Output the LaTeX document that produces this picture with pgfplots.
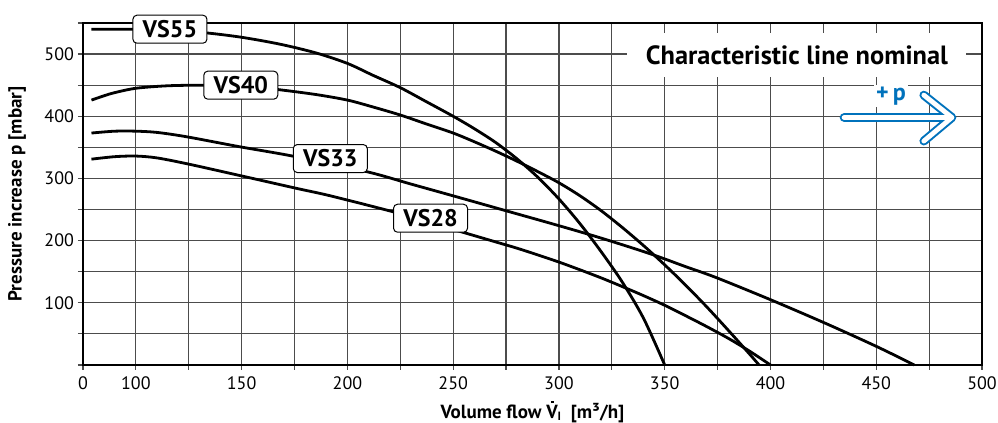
\documentclass[border=0pt]{standalone}
\usepackage{fontspec}
\setmainfont{PT Sans}
\usepackage{pgfplots}
\pgfplotsset{compat=1.18}

\definecolor{arrowblue}{RGB}{0,114,188}

\tikzset{
  lbl/.style={draw=black, fill=white, rounded corners=2pt, line width=0.5pt,
    font=\bfseries\fontsize{12}{12}\selectfont, minimum width=37pt,
    minimum height=14pt, inner sep=1pt},
  crv/.style={black, line width=1.4pt, smooth}
}

% V with a dot above (the font has no combining dot)
\newcommand{\Vdot}{\makebox[0pt][l]{\smash{\hspace{0.25em}\raisebox{0.8em}{\rule{0.14em}{0.14em}}}}V}

\begin{document}
\begin{tikzpicture}
\begin{axis}[
  scale only axis, width=449.5pt, height=171pt,
  xmin=75, xmax=500, ymin=0, ymax=550,
  xtick={75,100,...,500},
  xticklabels={0,100,,150,,200,,250,,300,,350,,400,,450,,500},
  ytick={0,50,...,550},
  yticklabels={,,100,,200,,300,,400,,500,},
  xtick pos=bottom, ytick pos=left, tick align=outside,
  major tick length=2.5pt,
  grid=major, grid style={black!70, line width=0.6pt},
  axis line style={line width=0.9pt},
  tick style={black!70, line width=0.6pt},
  ticklabel style={font=\fontsize{9}{10}\selectfont},
  yticklabel style={xshift=1.5pt},
  /pgf/number format/assume math mode=true,
  xlabel={Volume flow \Vdot{\fontsize{6}{6}\selectfont\raisebox{-0.4ex}{I}}\ \ [m³/h]},
  ylabel={Pressure increase p [mbar]},
  every axis x label/.style={at={(axis description cs:0.5,0)}, yshift=-24pt,
    anchor=center, font=\bfseries\fontsize{9.5}{10}\selectfont},
  every axis y label/.style={at={(axis description cs:0,0.5)}, xshift=-33pt,
    rotate=90, anchor=center, font=\bfseries\fontsize{9.5}{10}\selectfont},
  clip=false,
]
% VS55
\addplot[crv] coordinates {
  (79,540) (90,540) (98,540) (110,539) (120,537) (133.5,534) (150,527) (168,516)
  (185,502) (200,485) (212,466) (225,446) (237,424) (250,400) (260,380) (270,358)
  (280,332) (290,302) (300,267) (310,227) (320,182) (330,133) (340,75) (350,0)};
% VS40
\addplot[crv] coordinates {
  (79,426) (85,433) (90,438) (100,445) (115,449) (132,450) (150,449) (167,443)
  (185,435) (200,426) (212,415) (225,402) (237,388) (250,373) (260,359) (270,344)
  (280,328) (290,311) (300,293) (310,272) (320,248) (330,221) (340,192) (350,161)
  (360,128) (370,93) (380,56) (390,18) (394.6,0)};
% VS33
\addplot[crv] coordinates {
  (79,373) (90,376) (100,376) (110,374) (124,367) (149,351) (174,336) (209,311)
  (230,291) (250,272) (275,248) (300,224) (320,204) (343,179) (360,158) (374,141)
  (400,105) (426,67) (450,30) (468,0)};
% VS28
\addplot[crv] coordinates {
  (79,331) (90,335) (100,336) (110,333) (125,323) (150,304) (176,284) (192,272)
  (222,246) (240,228) (256,212) (270,198) (280,188) (290,177) (300,165.5) (310,153)
  (320,140) (330,126) (340,111.5) (350,96) (360,79) (370,61.5) (380,43) (390,22.5)
  (400,0)};

\node[lbl] at (axis cs:116.1,540) {VS55};
\node[lbl] at (axis cs:149.6,450) {VS40};
\node[lbl] at (axis cs:191.9,332) {VS33};
\node[lbl] at (axis cs:239.3,236) {VS28};

\node[fill=white, minimum width=169.5pt, minimum height=22pt, inner sep=0pt,
  font=\bfseries\fontsize{13.2}{14}\selectfont] at (axis cs:412.5,498.4)
  {Characteristic line nominal};

% direction arrow
\draw[arrowblue, line width=4.4pt, line cap=round, line join=round]
  (axis cs:434.8,398) -- (axis cs:484.4,398)
  (axis cs:472.5,434) -- (axis cs:485.8,398) -- (axis cs:472.5,360.1);
\draw[white, line width=2.4pt, line cap=round, line join=round]
  (axis cs:434.8,398) -- (axis cs:484.4,398)
  (axis cs:472.5,434) -- (axis cs:485.8,398) -- (axis cs:472.5,360.1);
\node[fill=white, inner sep=1pt, text=arrowblue,
  font=\bfseries\fontsize{12}{12}\selectfont] at (axis cs:457,432.5) {+\,p};
\end{axis}
\pgfresetboundingbox
\path[use as bounding box] ([shift={(-41.5pt,-29pt)}]current axis.south west)
  rectangle ([shift={(8pt,11.5pt)}]current axis.north east);
\end{tikzpicture}
\end{document}
